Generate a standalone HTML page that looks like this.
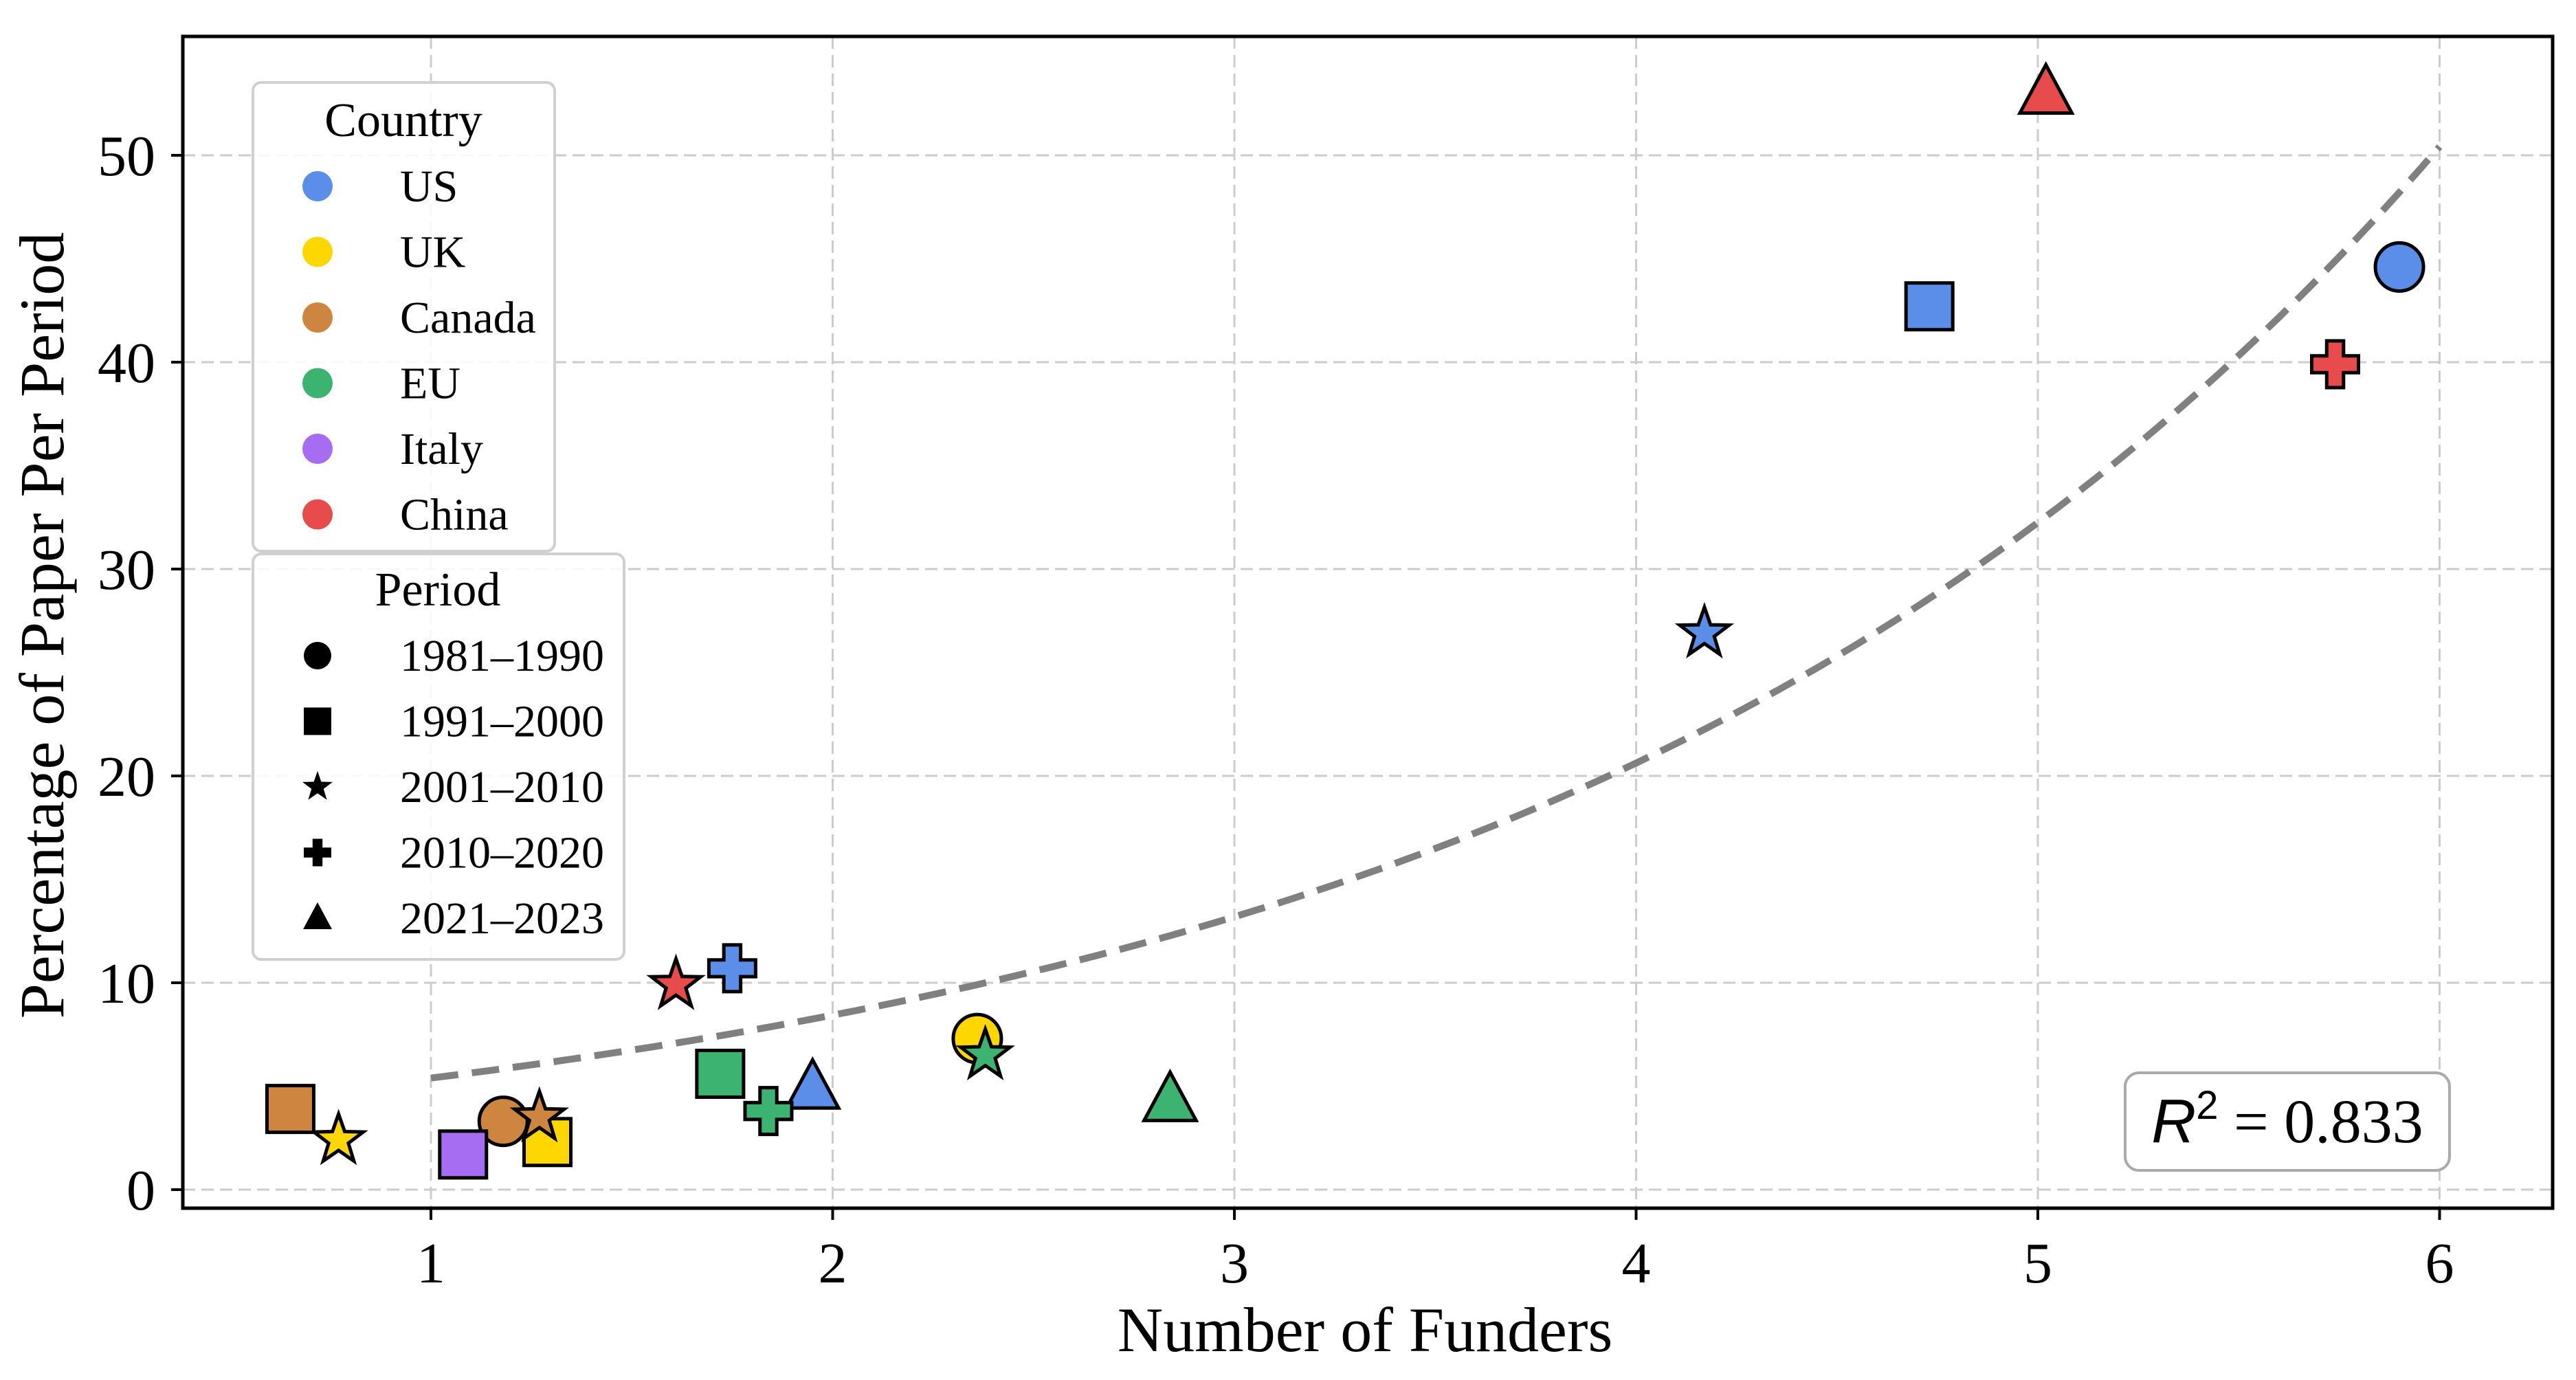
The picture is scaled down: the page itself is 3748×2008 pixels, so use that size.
<!DOCTYPE html>
<html><head><meta charset="utf-8"><style>
html,body{margin:0;padding:0;background:#fff}
svg{display:block;font-family:"Liberation Serif",serif}
</style></head><body>
<svg id="chart" width="3748" height="2008" viewBox="0 0 3748 2008">
<g id="grid"></g>
<g id="fit"></g>
<g id="marks"></g>
<rect x="266" y="53" width="3448" height="1705" fill="none" stroke="#000" stroke-width="5"/>
<g id="ticks"></g>
<text x="1986" y="1966" font-size="92" text-anchor="middle">Number of Funders</text>
<text x="0" y="0" font-size="92" text-anchor="middle" transform="translate(92,910) rotate(-90)">Percentage of Paper Per Period</text>
<g>
<rect x="368" y="120" width="439" height="682" rx="12" fill="#fff" fill-opacity="0.85" stroke="#d0d0d0" stroke-width="4"/>
<text x="587" y="198" font-size="70" text-anchor="middle">Country</text>
<g id="legC"></g>
</g>
<g>
<rect x="368" y="806" width="540" height="590" rx="12" fill="#fff" fill-opacity="0.85" stroke="#d0d0d0" stroke-width="4"/>
<text x="637" y="881" font-size="70" text-anchor="middle">Period</text>
<g id="legP"></g>
</g>
<g>
<rect x="3092" y="1561" width="472" height="142" rx="20" fill="#fff" stroke="#aaa" stroke-width="4"/>
<text x="3328" y="1662" font-size="90" text-anchor="middle"><tspan font-family="Liberation Sans, sans-serif" font-style="italic">R</tspan><tspan font-size="58" dy="-34" font-family="Liberation Sans, sans-serif">2</tspan><tspan dy="34"> = 0.833</tspan></text>
</g>
</svg>
<script>
const countries = ["US","UK","Canada","EU","Italy","China"];
const colors = ["#5b8ee8","#ffd700","#cd853f","#3cb371","#a66cf2","#e84b4b"];
const periods = ["1981–1990","1991–2000","2001–2010","2010–2020","2021–2023"];
const shapes = ["circle","square","star","plus","triangle"];
const ptCountry = ["US","US","US","US","US","UK","UK","UK","Canada","Canada","Canada","EU","EU","EU","EU","Italy","China","China","China"];
const ptPeriod = [0,1,2,3,4,0,1,2,0,1,2,1,3,2,4,1,4,3,2];
const ptX = [5.90,4.73,4.17,1.75,1.95,2.36,1.29,0.77,1.18,0.65,1.27,1.72,1.84,2.38,2.84,1.08,5.02,5.74,1.61];
const ptY = [44.6,42.7,26.9,10.7,4.9,7.3,2.3,2.4,3.3,3.9,3.5,5.6,3.8,6.5,4.3,1.7,53.0,39.9,9.9];
const xTicks = [1,2,3,4,5,6];
const yTicks = [0,10,20,30,40,50];
const fitA = 3.45, fitB = 0.447;

const NS="http://www.w3.org/2000/svg";
const X = v => 627 + (v-1)*584.5;
const Y = v => 1731 - v*30.1;
function mk(tag, attrs, parent){const e=document.createElementNS(NS,tag);for(const k in attrs)e.setAttribute(k,attrs[k]);parent.appendChild(e);return e;}
function shape(s,cx,cy,r,fill,stroke,sw,parent){
  let d;
  if(s==="circle") return mk("circle",{cx,cy,r,fill,stroke,"stroke-width":sw},parent);
  if(s==="square") return mk("rect",{x:cx-r,y:cy-r,width:2*r,height:2*r,fill,stroke,"stroke-width":sw},parent);
  if(s==="triangle") d=`M${cx},${cy-r*1.15} L${cx+r*1.05},${cy+r*0.8} L${cx-r*1.05},${cy+r*0.8}Z`;
  if(s==="plus"){const a=r*0.36,b=r;d=`M${cx-a},${cy-b}h${2*a}v${b-a}h${b-a}v${2*a}h${-(b-a)}v${b-a}h${-2*a}v${-(b-a)}h${-(b-a)}v${-2*a}h${b-a}Z`;}
  if(s==="star"){d="";for(let i=0;i<10;i++){const rr=i%2?r*0.42:r*1.05;const ang=-Math.PI/2+i*Math.PI/5;d+=(i?"L":"M")+(cx+rr*Math.cos(ang)).toFixed(1)+","+(cy+rr*Math.sin(ang)).toFixed(1);}d+="Z";}
  return mk("path",{d,fill,stroke,"stroke-width":sw,"stroke-linejoin":"miter"},parent);
}
const grid=document.getElementById("grid"), ticks=document.getElementById("ticks");
xTicks.forEach(t=>{
  const g=mk("line",{x1:X(t),x2:X(t),y1:53,y2:1758,stroke:"#ccc","stroke-width":3,"stroke-dasharray":"18,9"},grid);
  
  
  mk("line",{x1:X(t),x2:X(t),y1:1758,y2:1775,stroke:"#000","stroke-width":4},ticks);
  const tx=mk("text",{x:X(t),y:1866,"font-size":84,"text-anchor":"middle"},ticks);tx.textContent=t;
  
  
});
yTicks.forEach(t=>{
  const g=mk("line",{x1:266,x2:3714,y1:Y(t),y2:Y(t),stroke:"#ccc","stroke-width":3,"stroke-dasharray":"18,9"},grid);
  
  
  mk("line",{x1:249,x2:266,y1:Y(t),y2:Y(t),stroke:"#000","stroke-width":4},ticks);
  const tx=mk("text",{x:226,y:Y(t)+29,"font-size":84,"text-anchor":"end"},ticks);tx.textContent=t;
  
  
});
let pd="";for(let i=0;i<=100;i++){const xv=1+5*i/100;pd+=(i?"L":"M")+X(xv).toFixed(1)+","+Y(fitA*Math.exp(fitB*xv)).toFixed(1);}
const fl=mk("path",{d:pd,fill:"none",stroke:"#808080","stroke-width":10,"stroke-dasharray":"40,20"},document.getElementById("fit"));


const marks=document.getElementById("marks");
ptX.forEach((xv,i)=>{
  const c=colors[countries.indexOf(ptCountry[i])];const s=shapes[ptPeriod[i]];
  const r = s==="circle"?35: s==="square"?34: s==="star"?36: s==="plus"?34:36;
  const el=shape(s,X(xv),Y(ptY[i]),r,c,"#000",5,marks);
  
  
});
const legC=document.getElementById("legC");
countries.forEach((c,i)=>{
  const y=271+i*95.5;
  const m=mk("circle",{cx:462,cy:y,r:22,fill:colors[i]},legC);
  
  
  const t=mk("text",{x:582,y:y+22,"font-size":66},legC);t.textContent=c;
  
  
});
const legP=document.getElementById("legP");
periods.forEach((p,i)=>{
  const y=954+i*95.5;
  const r=shapes[i]==="star"?22:20;
  const m=shape(shapes[i],462,y,r,"#000","none",0,legP);
  
  
  const t=mk("text",{x:582,y:y+22,"font-size":66},legP);t.textContent=p;
  
  
});
</script>
</body></html>
